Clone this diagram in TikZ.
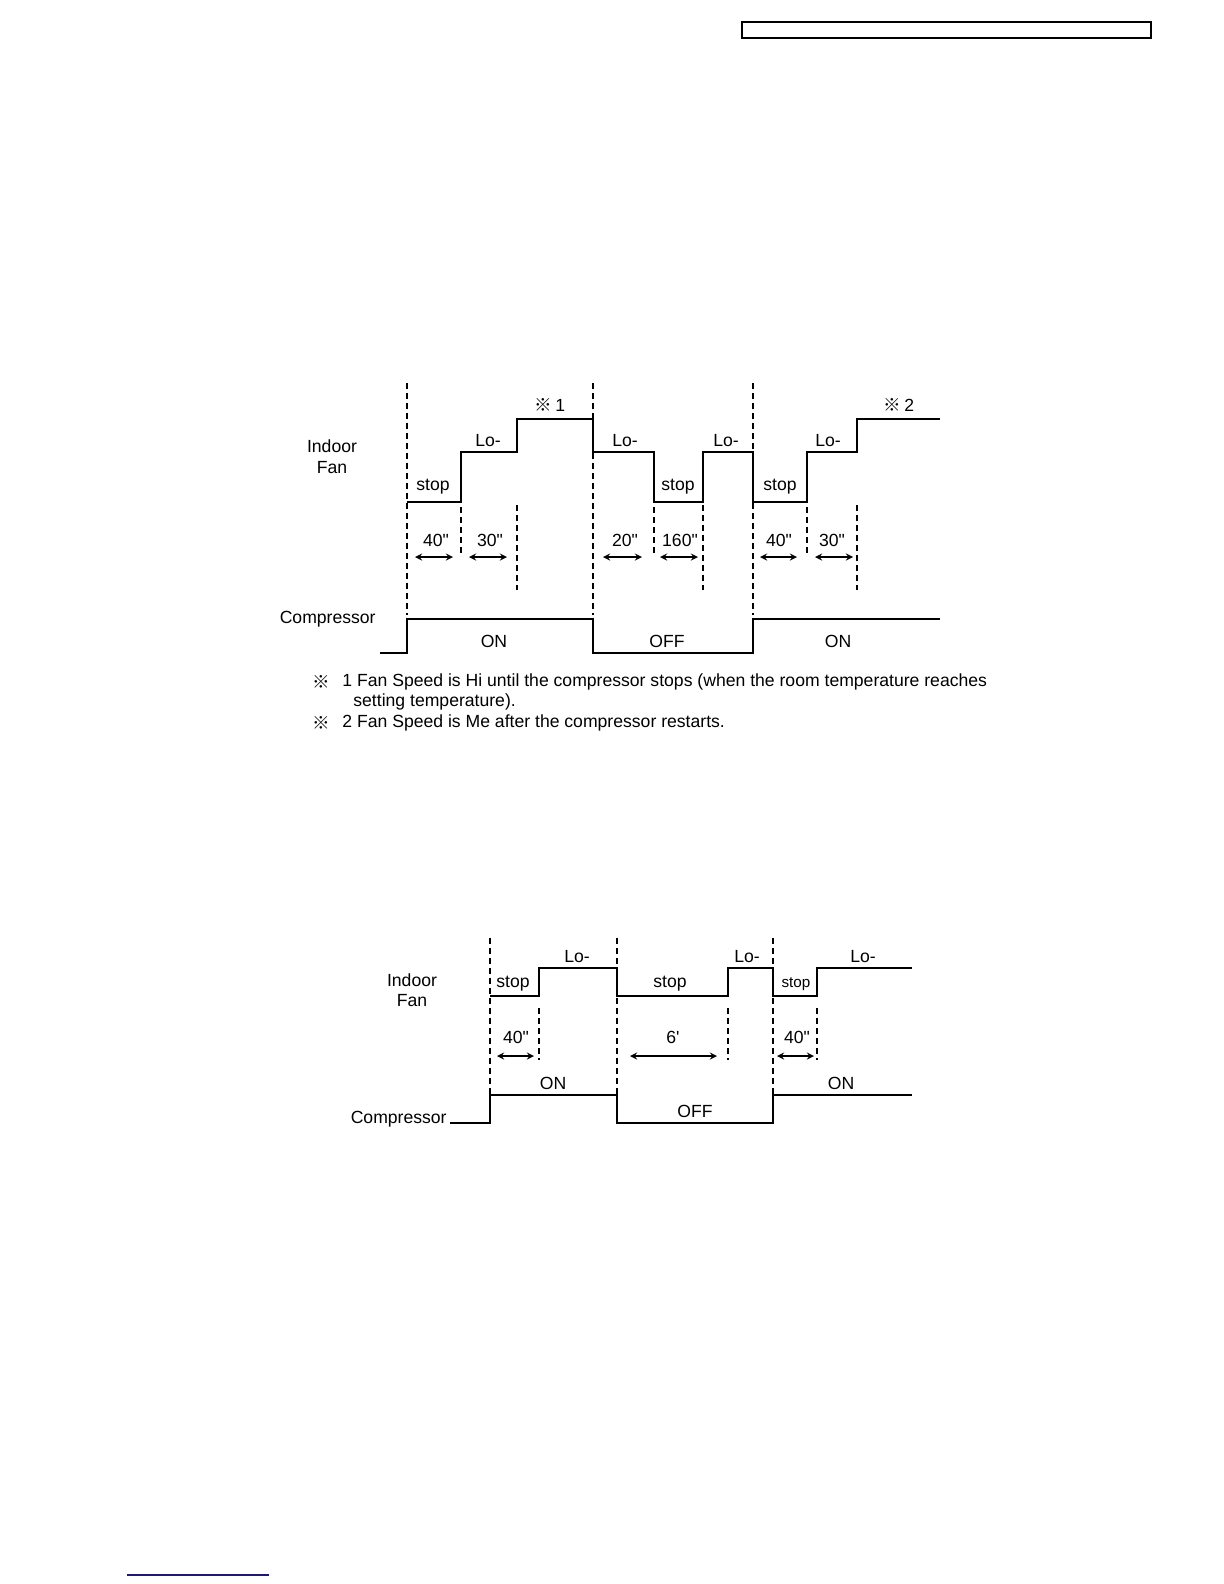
\documentclass[tikz,border=0pt]{standalone}
\usepackage{fontspec}
\setmainfont{Liberation Sans}
\newfontfamily\cjk{Noto Sans CJK JP}
\usetikzlibrary{arrows}

\begin{document}
\begin{tikzpicture}[
  x=0.5pt, y=-0.5pt,
  sig/.style={draw=black, line width=0.85pt},
  comp/.style={draw=black, line width=1pt},
  guide/.style={draw=black, line width=0.65pt, dash pattern=on 3pt off 2pt},
  arr/.style={<->, >=stealth, draw=black, line width=0.6pt},
  lbl/.style={font=\fontsize{8.8}{10.3}\selectfont, inner sep=0pt, align=center},
  note/.style={font=\fontsize{8.8}{10}\selectfont, inner sep=0pt, anchor=west}
]
\useasboundingbox (0,0) rectangle (1224,1584);
\draw[line width=0.7pt] (742,22) rectangle (1151,38);

% chart 1
\node[lbl] (fanA) at (332,457) {Indoor\\Fan};
\node[lbl, anchor=east] (compA) at (376,619) {Compressor};
\foreach \x in {407,593,753} \draw[guide] (\x,383) -- (\x,615);
\foreach \x in {517,703,857} \draw[guide] (\x,505) -- (\x,590);
\foreach \x in {461,654,807} \draw[guide] (\x,507) -- (\x,555);
\draw[sig] (407,502) -- (461,502) -- (461,452) -- (517,452) -- (517,419)
  -- (593,419) -- (593,452) -- (654,452) -- (654,502) -- (703,502)
  -- (703,452) -- (753,452) -- (753,502) -- (807,502) -- (807,452)
  -- (857,452) -- (857,419) -- (940,419);
\draw[comp] (380,653) -- (407,653) -- (407,619) -- (593,619) -- (593,653)
  -- (753,653) -- (753,619) -- (940,619);
\node[lbl] (stopA1) at (433,487) {stop};
\node[lbl] (loA1) at (488,441) {Lo-};
\node[lbl] (hiA1) at (550,405) {{\cjk ※}\,1};
\node[lbl] (loA2) at (625,441) {Lo-};
\node[lbl] (stopA2) at (678,487) {stop};
\node[lbl] (loA3) at (726,441) {Lo-};
\node[lbl] (stopA3) at (780,487) {stop};
\node[lbl] (loA4) at (828,441) {Lo-};
\node[lbl] (hiA2) at (899,405) {{\cjk ※}\,2};
\node[lbl] (tA1) at (436,540) {40\textquotedbl};
\node[lbl] (tA2) at (490,540) {30\textquotedbl};
\node[lbl] (tA3) at (625,540) {20\textquotedbl};
\node[lbl] (tA4) at (680,540) {160\textquotedbl};
\node[lbl] (tA5) at (779,540) {40\textquotedbl};
\node[lbl] (tA6) at (832,540) {30\textquotedbl};
\draw[arr] (415,557) -- (453,557);
\draw[arr] (469,557) -- (507,557);
\draw[arr] (603,557) -- (642,557);
\draw[arr] (660,557) -- (698,557);
\draw[arr] (760,557) -- (797,557);
\draw[arr] (815,557) -- (853,557);
\node[lbl] (onA1) at (494,641) {ON};
\node[lbl] (offA) at (667,641) {OFF};
\node[lbl] (onA2) at (838,641) {ON};

\node[note] (markA) at (312,682) {\cjk ※};
\node[note] (noteA) at (342,682) {1 Fan Speed is Hi until the compressor stops (when the room temperature reaches};
\node[note] (noteAb) at (353,702) {setting temperature).};
\node[note] (markB) at (312,723) {\cjk ※};
\node[note] (noteB) at (342,723) {2 Fan Speed is Me after the compressor restarts.};

% chart 2
\node[lbl] (fanB) at (412,990) {Indoor\\Fan};
\node[lbl, anchor=east] (compB) at (447,1119) {Compressor};
\foreach \x in {490,617,773} \draw[guide] (\x,938) -- (\x,1095);
\foreach \x in {539,728,817} \draw[guide] (\x,1008) -- (\x,1060);
\draw[sig] (490,996) -- (539,996) -- (539,968) -- (617,968) -- (617,996)
  -- (728,996) -- (728,968) -- (773,968) -- (773,996) -- (817,996)
  -- (817,968) -- (912,968);
\draw[comp] (450,1123) -- (490,1123) -- (490,1095) -- (617,1095) -- (617,1123)
  -- (773,1123) -- (773,1095) -- (912,1095);
\node[lbl] (stopB1) at (513,984) {stop};
\node[lbl] (loB1) at (577,957) {Lo-};
\node[lbl] (stopB2) at (670,984) {stop};
\node[lbl] (loB2) at (747,957) {Lo-};
\node[lbl, font=\fontsize{7.6}{9}\selectfont] (stopB3) at (796,984) {stop};
\node[lbl] (loB3) at (863,957) {Lo-};
\node[lbl] (tB1) at (516,1037) {40\textquotedbl};
\node[lbl] (tB2) at (673,1037) {6\textquotesingle};
\node[lbl] (tB3) at (797,1037) {40\textquotedbl};
\draw[arr] (497,1056) -- (534,1056);
\draw[arr] (630,1056) -- (717,1056);
\draw[arr] (777,1056) -- (814,1056);
\node[lbl] (onB1) at (553,1083) {ON};
\node[lbl] (offB) at (695,1111) {OFF};
\node[lbl] (onB2) at (841,1083) {ON};

\draw[draw={rgb,255:red,25;green,25;blue,120}, line width=0.6pt] (127,1575) -- (269,1575);
\end{tikzpicture}
\end{document}
